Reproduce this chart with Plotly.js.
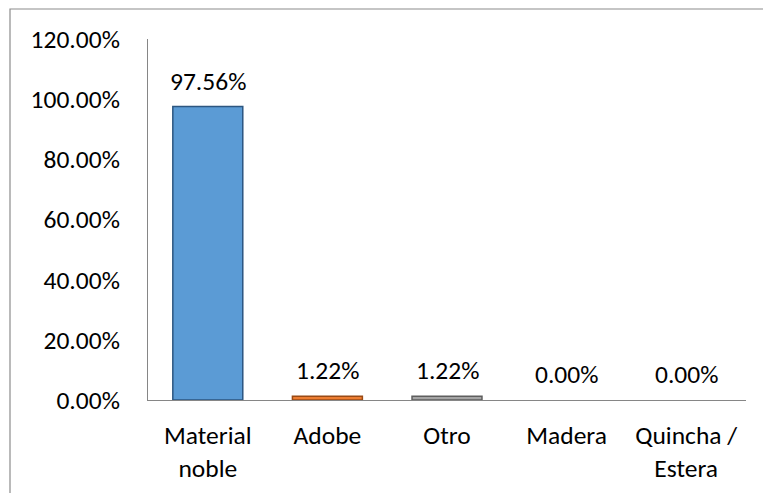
<!DOCTYPE html>
<html>
<head>
<meta charset="utf-8">
<script src="https://cdn.plot.ly/plotly-3.0.1.min.js"></script>
<style>html,body{margin:0;padding:0;background:#fff;}#chart{width:763px;height:493px;}</style>
</head>
<body>
<div id="chart"></div>
<script>
var categories = ['Material<br>noble', 'Adobe', 'Otro', 'Madera', 'Quincha /<br>Estera'];
var values = [97.56, 1.22, 1.22, 0.00, 0.00];
var barColors = ['#5B9BD5', '#ED7D31', '#A5A5A5', '#5B9BD5', '#5B9BD5'];
var edgeColors = ['#2C5680', '#9A4A15', '#5E5E5E', '#2C5680', '#2C5680'];

var FONT = 'Carlito, Lato, "Liberation Sans", sans-serif';
var FS = 25.5;

var trace = {
  type: 'bar',
  x: categories,
  y: values,
  marker: {
    color: barColors,
    line: {color: edgeColors, width: values.map(function (v) { return v > 0 ? 1.5 : 0; })}
  },
  hoverinfo: 'none'
};

var annotations = categories.map(function (c, i) {
  return {
    x: c, y: values[i], xref: 'x', yref: 'y',
    text: values[i].toFixed(2) + '%',
    showarrow: false, yanchor: 'bottom', yshift: 8,
    font: {family: FONT, size: FS, color: '#000'}
  };
});

var layout = {
  width: 763, height: 493,
  margin: {l: 148, r: 17, t: 39, b: 93, pad: 0},
  paper_bgcolor: '#fff', plot_bgcolor: '#fff',
  showlegend: false,
  bargap: 0.415,
  font: {family: FONT, size: FS, color: '#000'},
  xaxis: {
    type: 'category',
    showline: true, linecolor: '#868686', linewidth: 1,
    showgrid: false, zeroline: false,
    ticks: 'outside', ticklen: 12, tickcolor: 'rgba(0,0,0,0)',
    tickfont: {family: FONT, size: FS, color: '#000'},
    fixedrange: true
  },
  yaxis: {
    range: [0, 120], dtick: 20, tick0: 0,
    tickformat: '.2f', ticksuffix: '%',
    showline: true, linecolor: '#868686', linewidth: 1,
    showgrid: false, zeroline: false,
    ticks: 'outside', ticklen: 22, tickcolor: 'rgba(0,0,0,0)',
    tickfont: {family: FONT, size: FS, color: '#000'},
    fixedrange: true
  },
  annotations: annotations,
  shapes: [{
    type: 'rect', xref: 'paper', yref: 'paper',
    x0: (10 - 148) / 598, x1: 1.1,
    y0: -0.4, y1: (400 - 9) / 361,
    line: {color: '#8C8C8C', width: 1.2}, fillcolor: 'rgba(0,0,0,0)', layer: 'below'
  }]
};

Plotly.newPlot('chart', [trace], layout, {displayModeBar: false, staticPlot: true});
</script>
</body>
</html>
